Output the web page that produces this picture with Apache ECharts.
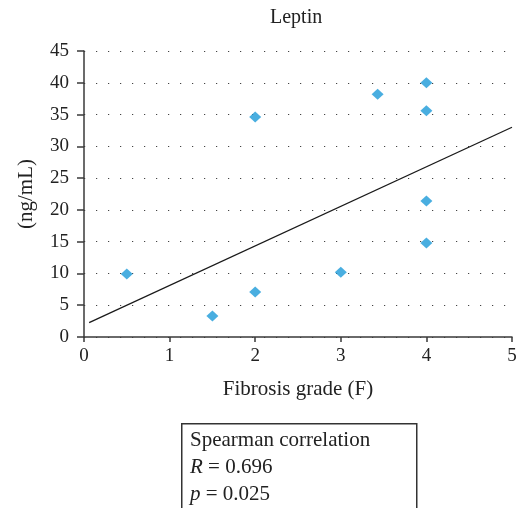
<!DOCTYPE html>
<html>
<head>
<meta charset="utf-8">
<script src="https://cdn.jsdelivr.net/npm/echarts@6/dist/echarts.min.js"></script>
<style>html,body{margin:0;padding:0;background:#fff;}#c{width:522px;height:508px;}</style>
</head>
<body>
<div id="c"></div>
<script>
const titleText = 'Leptin';
const xName = 'Fibrosis grade (F)';
const yName = '(ng/mL)';
const xValues = [0.5, 1.5, 2, 2, 3, 3.43, 4, 4, 4, 4];
const yValues = [9.9, 3.3, 7.1, 34.6, 10.2, 38.2, 40.0, 35.6, 21.4, 14.8];
const trendX = [0.06, 5.0];
const trendY = [2.25, 33.0];
const statLines = ['Spearman correlation', 'R = 0.696', 'p = 0.025'];

const FONT = '"Liberation Serif", "DejaVu Serif", serif';
const AX = '#3a3a3a';
const chart = echarts.init(document.getElementById('c'), null, {renderer: 'canvas'});
chart.setOption({
  animation: false,
  backgroundColor: '#fff',
  title: {
    text: titleText, left: 265, top: 3,
    textStyle: {fontFamily: FONT, fontWeight: 'normal', fontSize: 20, color: '#222'}
  },
  grid: {left: 84, right: 10, top: 51, bottom: 171, containLabel: false},
  xAxis: {
    type: 'value', min: 0, max: 5, interval: 1,
    name: xName, nameLocation: 'middle', nameGap: 42,
    nameTextStyle: {fontFamily: FONT, fontSize: 21, color: '#222'},
    axisLine: {show: true, onZero: false, lineStyle: {color: AX, width: 1.5}},
    axisTick: {show: true, length: 5, lineStyle: {color: AX, width: 1.5}},
    axisLabel: {fontFamily: FONT, fontSize: 19, color: '#222', margin: 10},
    splitLine: {show: false}
  },
  yAxis: {
    type: 'value', min: 0, max: 45, interval: 5,
    name: yName, nameLocation: 'middle', nameGap: 47, nameRotate: 90,
    nameTextStyle: {fontFamily: FONT, fontSize: 21, color: '#222'},
    axisLine: {show: true, lineStyle: {color: AX, width: 1.5}},
    axisTick: {show: true, length: 7, lineStyle: {color: AX, width: 1.5}},
    axisLabel: {fontFamily: FONT, fontSize: 19, color: '#222', margin: 15},
    splitLine: {show: true, lineStyle: {color: '#444', width: 1.2, type: [1.2, 10.8], dashOffset: -12}}
  },
  series: [
    {
      type: 'line', data: trendX.map((x, i) => [x, trendY[i]]),
      showSymbol: false, symbol: 'none', silent: true,
      lineStyle: {color: '#1a1a1a', width: 1.3}, z: 2
    },
    {
      type: 'scatter', data: xValues.map((x, i) => [x, yValues[i]]),
      symbol: 'diamond', symbolSize: [12, 11],
      itemStyle: {color: '#1c9ad8'}, z: 3
    }
  ],
  graphic: [
    {type: 'rect', left: 181, top: 423, shape: {width: 235, height: 120},
     style: {fill: '#fff', stroke: '#333', lineWidth: 1.5}},
    {type: 'text', left: 190, top: 430, style: {text: statLines[0], font: '21px ' + FONT, fill: '#222'}},
    {type: 'text', left: 190, top: 457, style: {
      text: '{i|R} = 0.696', font: '21px ' + FONT, fill: '#222',
      rich: {i: {fontStyle: 'italic', fontFamily: FONT, fontSize: 21}}}},
    {type: 'text', left: 190, top: 484, style: {
      text: '{i|p} = 0.025', font: '21px ' + FONT, fill: '#222',
      rich: {i: {fontStyle: 'italic', fontFamily: FONT, fontSize: 21}}}}
  ]
});
</script>
</body>
</html>
